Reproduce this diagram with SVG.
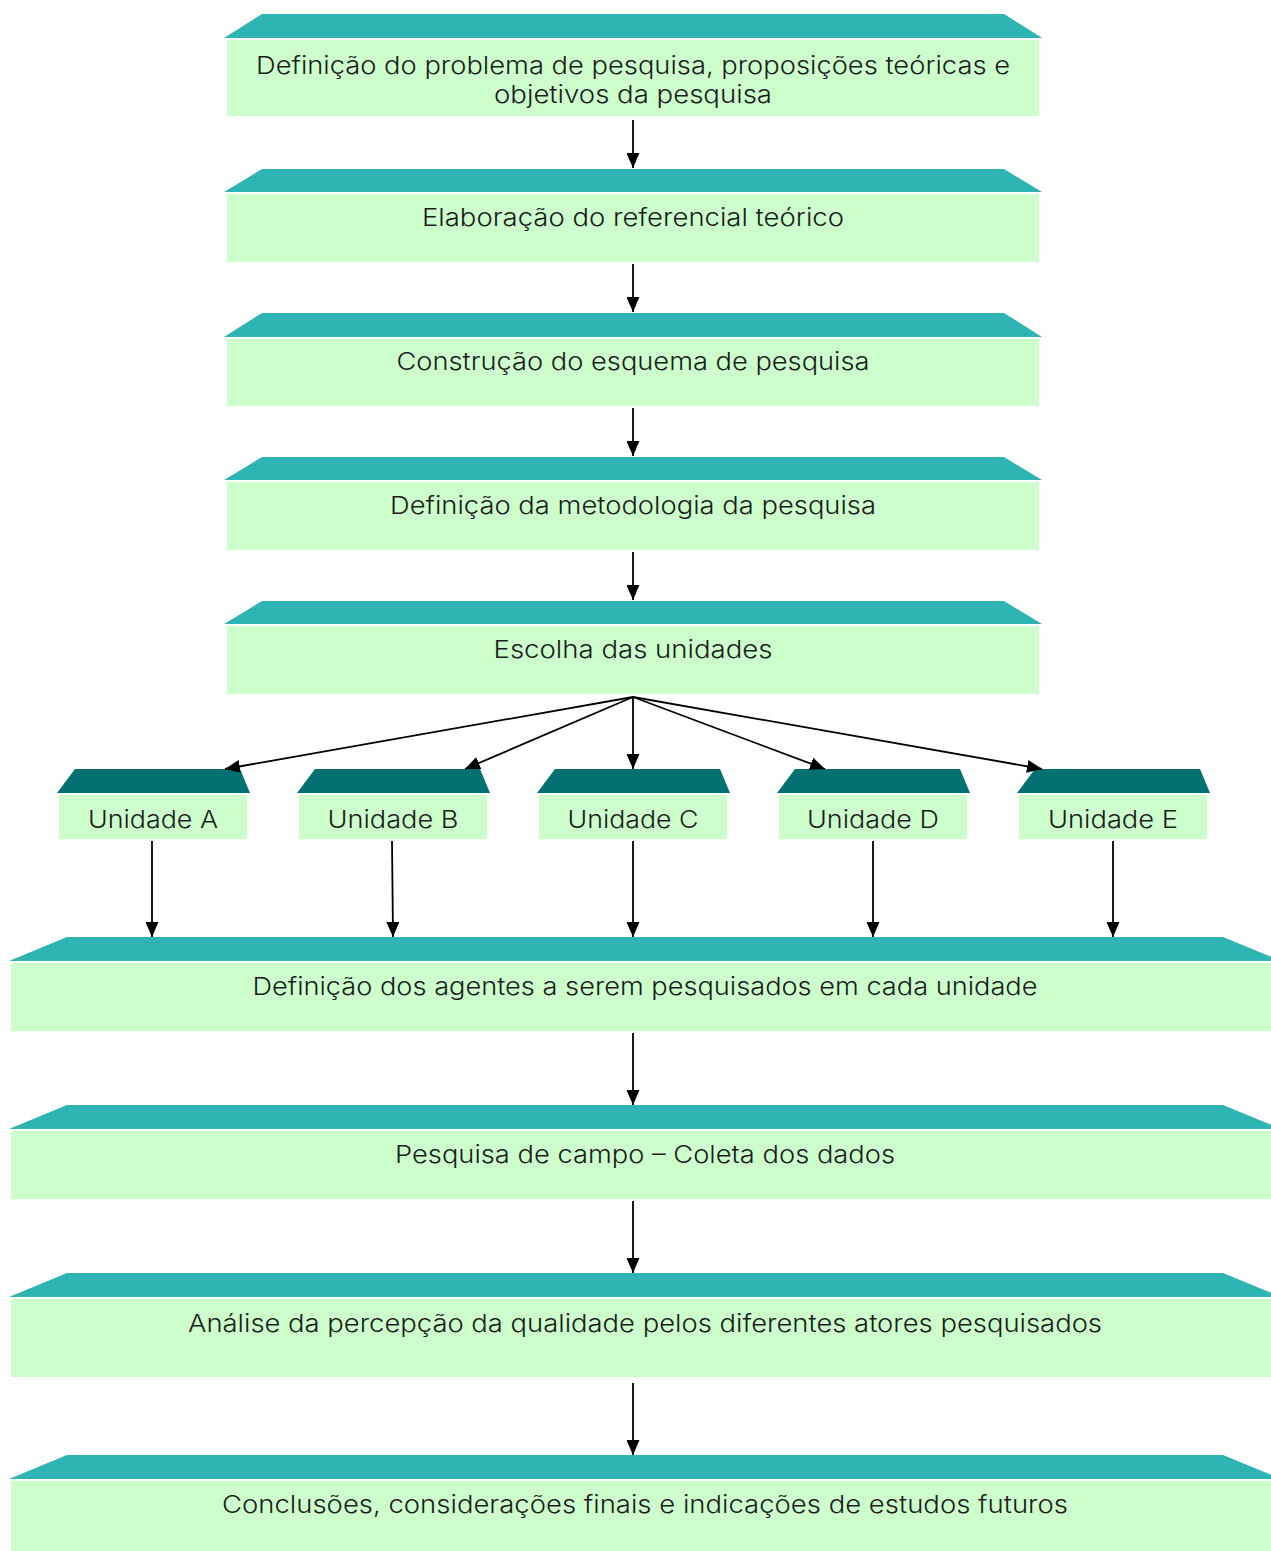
<svg xmlns="http://www.w3.org/2000/svg" width="1271" height="1551" viewBox="0 0 1271 1551">
<defs>
<style>
.roof{fill:#2fb4b4}
.roofd{fill:#007070}
.body{fill:#ccffcc}
text{font-family:Inter,"Liberation Sans",Arial,sans-serif;font-weight:300;font-size:24px;fill:#1c1c1c;text-anchor:middle}
.c line{stroke:#000;stroke-width:1.8;marker-end:url(#ah)}
</style>
<marker id="ah" markerUnits="userSpaceOnUse" markerWidth="16" markerHeight="13" refX="15" refY="6.5" orient="auto">
<path d="M0,0 L15,6.5 L0,13 z" fill="#000"/>
</marker>
</defs>
<rect width="1271" height="1551" fill="#fff"/>

<g id="n1">
<polygon class="roof" points="262,14 1004,14 1042,38 224,38"/>
<rect class="body" x="227" y="40" width="812" height="76"/>
<text x="633" y="74" textLength="754" lengthAdjust="spacingAndGlyphs">Definição do problema de pesquisa, proposições teóricas e</text>
<text x="633" y="103" textLength="278" lengthAdjust="spacingAndGlyphs">objetivos da pesquisa</text>
</g>
<g id="n2">
<polygon class="roof" points="262,169 1004,169 1042,192 224,192"/>
<rect class="body" x="227" y="194" width="812" height="68"/>
<text x="633" y="226" textLength="422" lengthAdjust="spacingAndGlyphs">Elaboração do referencial teórico</text>
</g>
<g id="n3">
<polygon class="roof" points="262,313 1004,313 1042,337 224,337"/>
<rect class="body" x="227" y="339" width="812" height="67"/>
<text x="633" y="370" textLength="473" lengthAdjust="spacingAndGlyphs">Construção do esquema de pesquisa</text>
</g>
<g id="n4">
<polygon class="roof" points="262,457 1004,457 1042,480 224,480"/>
<rect class="body" x="227" y="482" width="812" height="68"/>
<text x="633" y="514" textLength="486" lengthAdjust="spacingAndGlyphs">Definição da metodologia da pesquisa</text>
</g>
<g id="n5">
<polygon class="roof" points="262,601 1004,601 1042,624 224,624"/>
<rect class="body" x="227" y="626" width="812" height="68"/>
<text x="633" y="658" textLength="279" lengthAdjust="spacingAndGlyphs">Escolha das unidades</text>
</g>

<g id="uA">
<polygon class="roofd" points="75,769 240,769 250,793 57,793"/>
<rect class="body" x="59" y="795" width="188" height="44"/>
<text x="153" y="828" textLength="130" lengthAdjust="spacingAndGlyphs">Unidade A</text>
</g>
<g id="uB">
<polygon class="roofd" points="315,769 480,769 490,793 297,793"/>
<rect class="body" x="299" y="795" width="188" height="44"/>
<text x="393" y="828" textLength="131" lengthAdjust="spacingAndGlyphs">Unidade B</text>
</g>
<g id="uC">
<polygon class="roofd" points="555,769 720,769 730,793 537,793"/>
<rect class="body" x="539" y="795" width="188" height="44"/>
<text x="633" y="828" textLength="131" lengthAdjust="spacingAndGlyphs">Unidade C</text>
</g>
<g id="uD">
<polygon class="roofd" points="795,769 960,769 970,793 777,793"/>
<rect class="body" x="779" y="795" width="188" height="44"/>
<text x="873" y="828" textLength="132" lengthAdjust="spacingAndGlyphs">Unidade D</text>
</g>
<g id="uE">
<polygon class="roofd" points="1035,769 1200,769 1210,793 1017,793"/>
<rect class="body" x="1019" y="795" width="188" height="44"/>
<text x="1113" y="828" textLength="130" lengthAdjust="spacingAndGlyphs">Unidade E</text>
</g>

<g id="n6">
<polygon class="roof" points="67,937 1223,937 1281,961 9,961"/>
<rect class="body" x="11" y="963" width="1268" height="68"/>
<text x="645" y="995" textLength="785" lengthAdjust="spacingAndGlyphs">Definição dos agentes a serem pesquisados em cada unidade</text>
</g>
<g id="n7">
<polygon class="roof" points="67,1105 1223,1105 1281,1129 9,1129"/>
<rect class="body" x="11" y="1131" width="1268" height="68"/>
<text x="645" y="1163" textLength="500" lengthAdjust="spacingAndGlyphs">Pesquisa de campo – Coleta dos dados</text>
</g>
<g id="n8">
<polygon class="roof" points="67,1273 1223,1273 1281,1297 9,1297"/>
<rect class="body" x="11" y="1299" width="1268" height="78"/>
<text x="645" y="1332" textLength="914" lengthAdjust="spacingAndGlyphs">Análise da percepção da qualidade pelos diferentes atores pesquisados</text>
</g>
<g id="n9">
<polygon class="roof" points="67,1455 1223,1455 1281,1479 9,1479"/>
<rect class="body" x="11" y="1481" width="1268" height="75"/>
<text x="645" y="1513" textLength="846" lengthAdjust="spacingAndGlyphs">Conclusões, considerações finais e indicações de estudos futuros</text>
</g>

<g id="connectors" class="c">
<line x1="633" y1="120" x2="633" y2="168"/>
<line x1="633" y1="264" x2="633" y2="312"/>
<line x1="633" y1="408" x2="633" y2="456"/>
<line x1="633" y1="552" x2="633" y2="600"/>
<line x1="633" y1="697" x2="225" y2="769"/>
<line x1="633" y1="697" x2="465" y2="769"/>
<line x1="633" y1="697" x2="633" y2="769"/>
<line x1="633" y1="697" x2="825" y2="769"/>
<line x1="633" y1="697" x2="1042" y2="769"/>
<line x1="152" y1="841" x2="152" y2="937"/>
<line x1="392" y1="841" x2="393" y2="937"/>
<line x1="633" y1="841" x2="633" y2="937"/>
<line x1="873" y1="841" x2="873" y2="937"/>
<line x1="1113" y1="841" x2="1113" y2="937"/>
<line x1="633" y1="1033" x2="633" y2="1105"/>
<line x1="633" y1="1201" x2="633" y2="1273"/>
<line x1="633" y1="1383" x2="633" y2="1455"/>
</g>
</svg>
